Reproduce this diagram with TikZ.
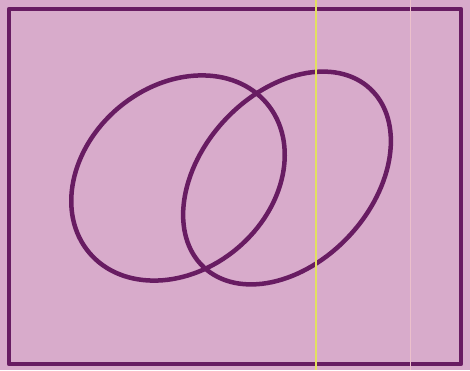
\documentclass[tikz,border=0pt]{standalone}
\usepackage{tikz}
\usepackage{xcolor}
\definecolor{paper}{RGB}{216,171,203}
\definecolor{ink}{RGB}{104,28,98}
\definecolor{streak}{RGB}{226,224,96}
\definecolor{faint}{RGB}{236,192,204}

\begin{document}
\begin{tikzpicture}[x=1pt,y=-1pt,
    inkline/.style={draw=ink,line width=4.5pt,line cap=round,line join=round}]
  \fill[paper] (0,0) rectangle (470,370);
  \useasboundingbox (0,0) rectangle (470,370);
  % frame
  \draw[inkline] (9,9) rectangle (461,364);
  % left ring
  \draw[inkline,rotate around={40:(178,178)}] (178,178) ellipse [x radius=116, y radius=92];
  % right ring
  \draw[inkline,rotate around={47:(287,178)}] (287,178) ellipse [x radius=122, y radius=85];
  % scan streaks
  \draw[streak,line width=1.2pt] (316,0) -- (316,370);
  \draw[faint,line width=0.6pt] (410,0) -- (410,370);
\end{tikzpicture}
\end{document}
